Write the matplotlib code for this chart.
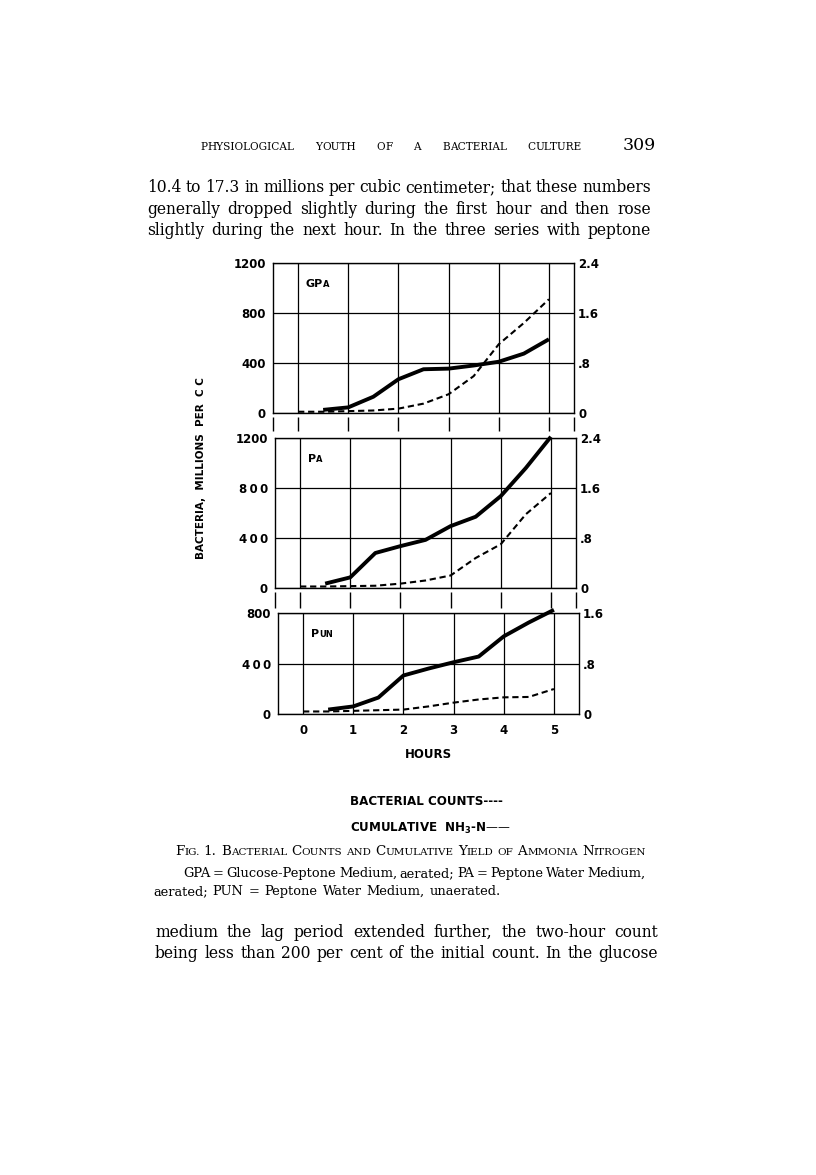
import matplotlib
matplotlib.use('Agg')
import matplotlib.pyplot as plt
from matplotlib.transforms import blended_transform_factory

W, H = 816, 1175

# time points (hours)
hours = [0, 0.5, 1, 1.5, 2, 2.5, 3, 3.5, 4, 4.5, 5]
nh3_hours = [0.5, 1, 1.5, 2, 2.5, 3, 3.5, 4, 4.5, 5]

# bacterial counts, millions per cc (dashed, left scale)
gpa_counts = [10, 10, 15, 20, 35, 75, 150, 295, 550, 720, 910]
pa_counts = [12, 12, 15, 18, 35, 60, 100, 240, 350, 590, 760]
pun_counts = [20, 20, 25, 30, 35, 60, 90, 115, 132, 135, 198]

# cumulative NH3-N (solid, right scale)
gpa_nh3 = [0.05, 0.09, 0.26, 0.54, 0.70, 0.71, 0.76, 0.82, 0.95, 1.18]
pa_nh3 = [0.07, 0.17, 0.56, 0.67, 0.77, 0.99, 1.14, 1.47, 1.92, 2.42]
pun_nh3 = [0.07, 0.12, 0.26, 0.61, 0.72, 0.82, 0.91, 1.23, 1.45, 1.65]

left_ticks_big = [0, 400, 800, 1200]
right_ticks_big = [0, 0.8, 1.6, 2.4]
left_ticks_small = [0, 400, 800]
right_ticks_small = [0, 0.8, 1.6]
hour_labels = ['0', '1', '2', '3', '4', '5']

SANS = 'DejaVu Sans'
SERIF = 'DejaVu Serif'

fig = plt.figure(figsize=(W / 100, H / 100), dpi=100)
fig.patch.set_facecolor('white')
renderer = fig.canvas.get_renderer()


def run_line(words, x0, y, x1=None, size=10, family=SERIF, weight='normal', gap=None):
    """place words (each a list of (text, scale) runs) on a baseline, optionally justified"""
    placed = []
    for w in words:
        if isinstance(w, str):
            w = [(w, 1.0)]
        parts = []
        tot = 0
        for s, k in w:
            t = fig.text(0, 1 - y / H, s, fontsize=size * k, family=family,
                         weight=weight, va='baseline', ha='left')
            bw = t.get_window_extent(renderer).width
            parts.append((t, bw))
            tot += bw
        placed.append((parts, tot))
    if x1 is not None and len(words) > 1:
        g = (x1 - x0 - sum(p[1] for p in placed)) / (len(words) - 1)
    else:
        g = gap if gap is not None else size * 0.32 * 100 / 72
    x = x0
    for parts, tot in placed:
        for t, bw in parts:
            t.set_x(x / W)
            x += bw
        x += g


def sc(word, k=0.78):
    if word[0].isupper():
        return [(word[0], 1.0), (word[1:].upper(), k)]
    return [(word.upper(), k)]


# ---- page text ----
run_line([sc(w, 1.0) for w in 'PHYSIOLOGICAL YOUTH OF A BACTERIAL CULTURE'.split()],
         200, 150, 582, size=7.6)
run_line(['309'], 623, 150, size=12.5)

top_par = ['10.4 to 17.3 in millions per cubic centimeter; that these numbers',
           'generally dropped slightly during the first hour and then rose',
           'slightly during the next hour.  In the three series with peptone']
for i, line in enumerate(top_par):
    run_line(line.split(), 147, 192 + 21.5 * i, 651, size=11.2)

bot_par = ['medium the lag period extended further, the two-hour count',
           'being less than 200 per cent of the initial count.  In the glucose']
for i, line in enumerate(bot_par):
    run_line(line.split(), 155, 937 + 21.5 * i, 658, size=11.2)

cap1 = [sc('Fig.'), '1.'] + [sc(w) for w in
                             'Bacterial Counts and Cumulative Yield of Ammonia Nitrogen'.split()]
run_line(cap1, 175, 855, 646, size=9.6)
run_line('GPA = Glucose-Peptone Medium, aerated; PA = Peptone Water Medium,'.split(),
         183, 877, 646, size=9.4)
run_line('aerated; PUN = Peptone Water Medium, unaerated.'.split(), 153, 895, size=9.4,
         gap=5)

fig.text(350 / W, 1 - 805 / H, 'BACTERIAL COUNTS----', family=SANS, weight='bold',
         fontsize=8.6, va='baseline')
fig.text(350 / W, 1 - 832 / H, r'CUMULATIVE  NH$_\mathbf{3}$-N——', family=SANS,
         weight='bold', fontsize=8.6, va='baseline')

fig.text(201 / W, 1 - 468 / H, 'BACTERIA,  MILLIONS  PER  C C', rotation=90,
         family=SANS, weight='bold', fontsize=7.5, ha='center', va='center')

# ---- chart panels ----
panels = [
    dict(label=[('GP', 1.0), ('A', 0.75)], counts=gpa_counts, nh3=gpa_nh3,
         box=(273, 263, 574, 413), lticks=left_ticks_big, rticks=right_ticks_big,
         llabels=['0', '400', '800', '1200'], rlabels=['0', '.8', '1.6', '2.4']),
    dict(label=[('P', 1.0), ('A', 0.75)], counts=pa_counts, nh3=pa_nh3,
         box=(275, 438, 576, 588), lticks=left_ticks_big, rticks=right_ticks_big,
         llabels=['0', '4\u20090\u20090', '8\u20090\u20090', '1200'],
         rlabels=['0', '.8', '1.6', '2.4']),
    dict(label=[('P', 1.0), ('UN', 0.75)], counts=pun_counts, nh3=pun_nh3,
         box=(278, 613, 579, 714), lticks=left_ticks_small, rticks=right_ticks_small,
         llabels=['0', '4\u20090\u20090', '800'], rlabels=['0', '.8', '1.6']),
]

for i, p in enumerate(panels):
    x0, y0, x1, y1 = p['box']
    ax = fig.add_axes([x0 / W, 1 - y1 / H, (x1 - x0) / W, (y1 - y0) / H])
    ymax = p['lticks'][-1]
    ax.set_xlim(-0.5, 5.5)
    ax.set_ylim(0, ymax)
    ax.set_xticks(range(6))
    ax.set_yticks(p['lticks'])
    ax.set_yticklabels(p['llabels'], family=SANS, weight='bold', fontsize=8.5)
    ax.grid(True, color='black', lw=0.9)
    ax.tick_params(length=0, pad=5)
    for s in ax.spines.values():
        s.set_linewidth(1.0)
    if i < 2:
        ax.set_xticklabels([])
        tr = blended_transform_factory(ax.transData, ax.transAxes)
        hpx = y1 - y0
        seg = 14 if i == 0 else 16
        ax.vlines([-0.5, 0, 1, 2, 3, 4, 5, 5.5], -4 / hpx, -(4 + seg) / hpx,
                  transform=tr, clip_on=False, color='black', lw=1.0)
    else:
        ax.set_xticklabels(hour_labels, family=SANS, weight='bold', fontsize=8.5)
        ax.tick_params(axis='x', pad=7)
        ax.set_xlabel('HOURS', family=SANS, weight='bold', fontsize=8.5, labelpad=8)

    ax.plot(hours, p['counts'], color='black', lw=1.5, ls=(0, (3.0, 1.8)), clip_on=False)

    ax2 = ax.twinx()
    ax2.set_ylim(0, p['rticks'][-1])
    ax2.set_yticks(p['rticks'])
    ax2.set_yticklabels(p['rlabels'], family=SANS, weight='bold', fontsize=8.5)
    ax2.tick_params(length=0, pad=3)
    for s in ax2.spines.values():
        s.set_visible(False)
    ax2.plot(nh3_hours, p['nh3'], color='black', lw=2.8, solid_capstyle='butt',
             clip_on=False)

    run_line([p['label']], x0 + 33, y0 + 24, size=8, family=SANS, weight='bold')

fig.savefig('out.png', dpi=100, facecolor='white')
